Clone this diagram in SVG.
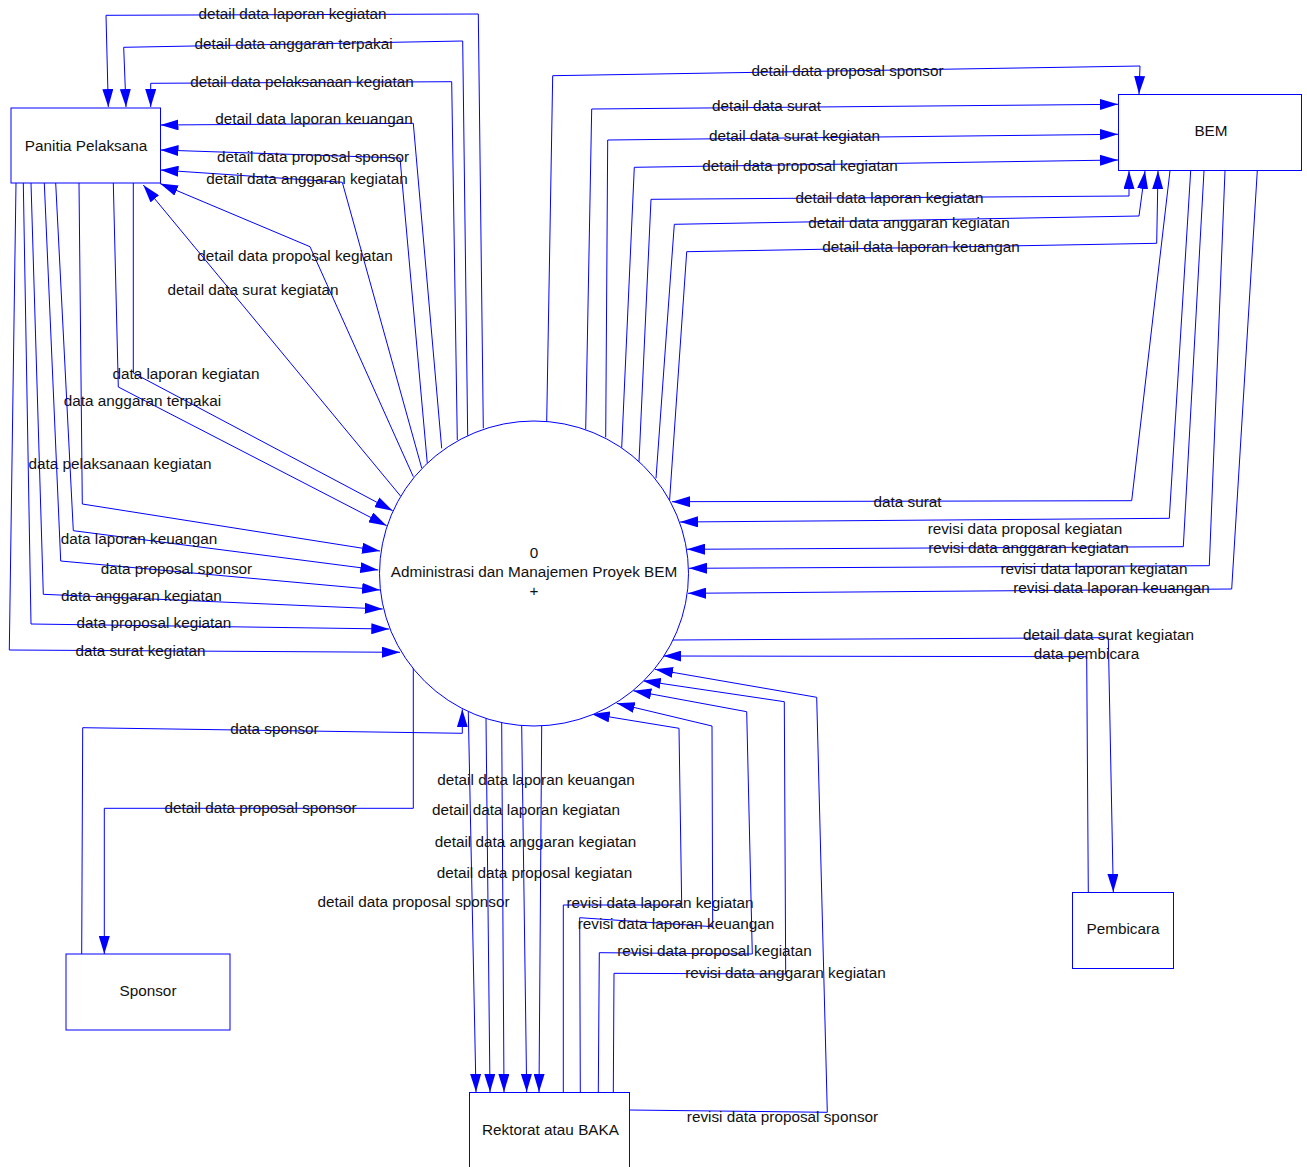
<svg xmlns="http://www.w3.org/2000/svg" width="1307" height="1167" viewBox="0 0 1307 1167">
<defs>
<marker id="ah" markerUnits="userSpaceOnUse" markerWidth="18" markerHeight="11" viewBox="0 0 18 11" refX="18" refY="5.5" orient="auto">
<path d="M0,0 L18,5.5 L0,11 z" fill="#0000ff"/>
</marker>
<style>
.c{fill:none;stroke:#0000ff;stroke-width:1;marker-end:url(#ah)}
.n{fill:#fff;stroke:#0000ff;stroke-width:1}
text{font-family:"Liberation Sans",Arial,sans-serif;font-size:15.3px;fill:#111;text-anchor:middle}
</style>
</defs>
<rect width="1307" height="1167" fill="#fff"/>
<g id="connectors">
<g><path class="c" d="M483.3,428.3 L478.3,14 L106,15.3 L108.3,107"/><text x="292.5" y="19">detail data laporan kegiatan</text></g>
<g><path class="c" d="M467.7,435.7 L462.7,41 L123.7,47.3 L126,107"/><text x="293.5" y="49">detail data anggaran terpakai</text></g>
<g><path class="c" d="M457.3,440 L451.7,81.7 L150.7,83.3 L150.7,107"/><text x="302" y="87">detail data pelaksanaan kegiatan</text></g>
<g><path class="c" d="M441.7,448.3 L413.3,123.3 L160.5,125"/><text x="314" y="124">detail data laporan keuangan</text></g>
<g><path class="c" d="M427.3,463.3 L400,158 L160.5,150"/><text x="313" y="162">detail data proposal sponsor</text></g>
<g><path class="c" d="M421.7,468 L342.3,182.3 L160.5,170"/><text x="307" y="184">detail data anggaran kegiatan</text></g>
<g><path class="c" d="M413.3,476.7 L310,246.7 L160,183.5"/><text x="295" y="261">detail data proposal kegiatan</text></g>
<g><path class="c" d="M400.5,496 L143.3,185"/><text x="253" y="295">detail data surat kegiatan</text></g>

<g><path class="c" d="M133.3,183 L133.3,373 L392.7,510.7"/><text x="186" y="379">data laporan kegiatan</text></g>
<g><path class="c" d="M113.3,183 L118.3,387 L386.7,525.7"/><text x="142.5" y="406">data anggaran terpakai</text></g>
<g><path class="c" d="M79,183 L82.3,504 L380,551"/><text x="120" y="469">data pelaksanaan kegiatan</text></g>
<g><path class="c" d="M55.7,183 L73.3,530.7 L378.3,570"/><text x="139" y="544">data laporan keuangan</text></g>
<g><path class="c" d="M44.3,183 L60.7,561 L380,590"/><text x="176.5" y="574">data proposal sponsor</text></g>
<g><path class="c" d="M31,183 L43.3,594.3 L382.7,609"/><text x="141.5" y="601">data anggaran kegiatan</text></g>
<g><path class="c" d="M23.3,183 L31,624 L389.3,629"/><text x="154" y="628">data proposal kegiatan</text></g>
<g><path class="c" d="M16,183 L9.3,650 L400,652.3"/><text x="140.5" y="656">data surat kegiatan</text></g>

<g><path class="c" d="M546.7,421.7 L552.7,75.7 L1140,66 L1139,94"/><text x="847.5" y="76">detail data proposal sponsor</text></g>
<g><path class="c" d="M585.7,429.3 L591.7,109 L1118,104.3"/><text x="766.5" y="111">detail data surat</text></g>
<g><path class="c" d="M605.7,437.3 L607.7,140 L1118,134.3"/><text x="794.5" y="141">detail data surat kegiatan</text></g>
<g><path class="c" d="M621.7,447.7 L634.3,167.3 L1118,160"/><text x="800" y="171">detail data proposal kegiatan</text></g>
<g><path class="c" d="M639,461.7 L651,199.3 L1129,196 L1129,171"/><text x="889.5" y="203">detail data laporan kegiatan</text></g>
<g><path class="c" d="M656,478.3 L674.3,224.3 L1139,216 L1145,171"/><text x="909" y="228">detail data anggaran kegiatan</text></g>
<g><path class="c" d="M669.6,500 L686.7,251.7 L1156.7,243.3 L1158,171"/><text x="921" y="252">detail data laporan keuangan</text></g>

<g><path class="c" d="M1170,170.7 L1131.7,500.7 L672,501.7"/><text x="907.5" y="507">data surat</text></g>
<g><path class="c" d="M1190.7,170.7 L1169.3,518.3 L680,522"/><text x="1025" y="534">revisi data proposal kegiatan</text></g>
<g><path class="c" d="M1204,170.7 L1183.3,546.7 L687,549.3"/><text x="1028.5" y="553">revisi data anggaran kegiatan</text></g>
<g><path class="c" d="M1225,170.7 L1209.3,565.7 L689,568.3"/><text x="1094" y="574">revisi data laporan kegiatan</text></g>
<g><path class="c" d="M1257.3,170.7 L1231.7,589 L688,593.3"/><text x="1111.5" y="593">revisi data laporan keuangan</text></g>

<g><path class="c" d="M673,640 L1108.3,637.7 L1113.3,892"/><text x="1108.5" y="640">detail data surat kegiatan</text></g>
<g><path class="c" d="M1088.3,892 L1086.7,656.7 L663.4,656"/><text x="1086.5" y="659">data pembicara</text></g>

<g><path class="c" d="M563.3,1092.3 L563.3,905 L681.7,905 L679,728.3 L591.7,714"/><text x="660" y="908">revisi data laporan kegiatan</text></g>
<g><path class="c" d="M580.3,1092 L579.7,917.7 L712.7,926.7 L712,726 L616.7,703.3"/><text x="676" y="929">revisi data laporan keuangan</text></g>
<g><path class="c" d="M598.3,1092 L599.3,952.7 L752.3,954 L746.7,711.7 L633.3,690.7"/><text x="714.5" y="956">revisi data proposal kegiatan</text></g>
<g><path class="c" d="M613.3,1092 L614,973.3 L785.7,974 L784.3,701.7 L642.7,680.7"/><text x="785.5" y="978">revisi data anggaran kegiatan</text></g>
<g><path class="c" d="M629.3,1110 L827.3,1112.3 L816.7,697.3 L655,669.3"/><text x="782.5" y="1122">revisi data proposal sponsor</text></g>

<g><path class="c" d="M468.3,711.7 L476,1092"/><text x="413.5" y="907">detail data proposal sponsor</text></g>
<g><path class="c" d="M486,718.3 L490,1092"/><text x="526" y="815">detail data laporan kegiatan</text></g>
<g><path class="c" d="M501.7,722.7 L504,1092"/><text x="536" y="785">detail data laporan keuangan</text></g>
<g><path class="c" d="M521.7,725.7 L526.7,1092"/><text x="535.5" y="847">detail data anggaran kegiatan</text></g>
<g><path class="c" d="M541.7,725.7 L539,1092"/><text x="534.5" y="878">detail data proposal kegiatan</text></g>

<g><path class="c" d="M81.7,954 L82.7,727.7 L462.3,733.3 L462.3,709.3"/><text x="274.5" y="734">data sponsor</text></g>
<g><path class="c" d="M413.3,668 L413.3,808.3 L104.3,808.3 L104.3,954"/><text x="260.5" y="813">detail data proposal sponsor</text></g>
</g>

<g id="process-0">
<ellipse class="n" cx="534" cy="573.5" rx="154.5" ry="152.5"/>
<text x="534" y="558">0</text>
<text x="534" y="577">Administrasi dan Manajemen Proyek BEM</text>
<text x="534" y="596">+</text>
</g>
<g id="panitia-pelaksana">
<rect class="n" x="11" y="108" width="149.5" height="75"/>
<text x="86" y="150.5">Panitia Pelaksana</text>
</g>
<g id="bem">
<rect class="n" x="1118.5" y="94.5" width="183" height="76"/>
<text x="1211" y="136">BEM</text>
</g>
<g id="sponsor">
<rect class="n" x="66" y="954" width="164" height="76"/>
<text x="148" y="996">Sponsor</text>
</g>
<g id="rektorat-baka">
<rect class="n" x="469.5" y="1092.5" width="160" height="80"/>
<text x="550.5" y="1135">Rektorat atau BAKA</text>
</g>
<g id="pembicara">
<rect class="n" x="1072.5" y="892.5" width="101" height="76"/>
<text x="1123" y="934">Pembicara</text>
</g>
</svg>
